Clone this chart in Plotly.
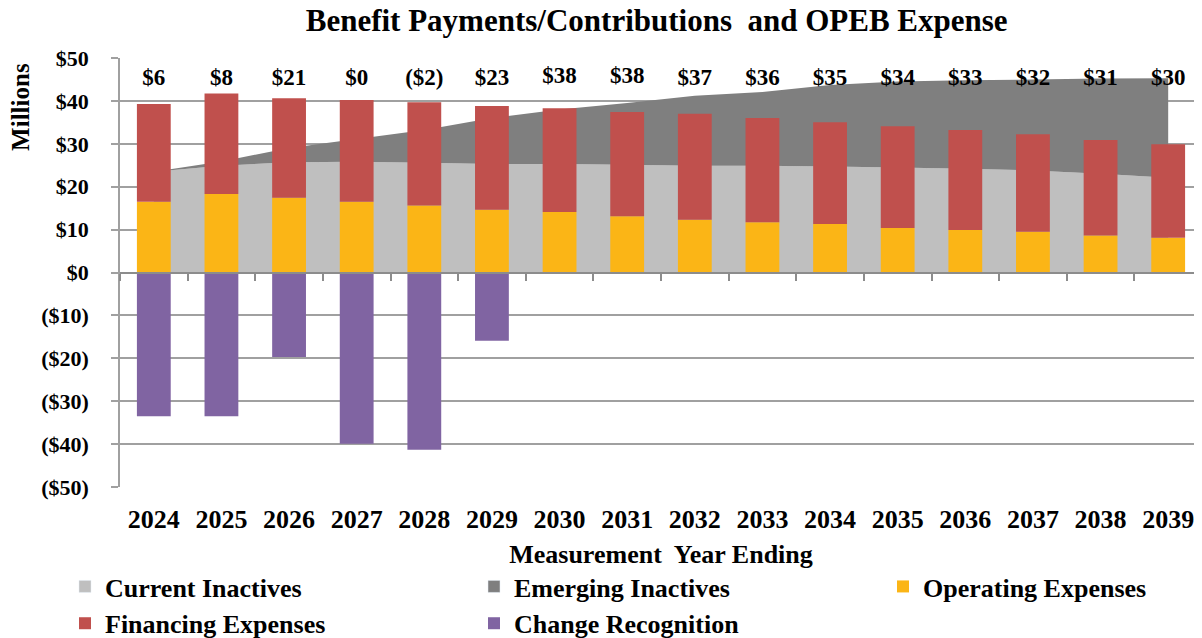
import plotly.graph_objects as go

years = ["2024", "2025", "2026", "2027", "2028", "2029", "2030", "2031",
         "2032", "2033", "2034", "2035", "2036", "2037", "2038", "2039"]
current_inactives = [23.5, 24.9, 25.7, 25.8, 25.6, 25.3, 25.3, 25.1,
                     24.9, 24.9, 24.7, 24.5, 24.2, 23.8, 23.0, 22.1]
emerging_inactives = [0.0, 1.0, 3.3, 5.3, 7.6, 10.7, 12.7, 14.4,
                      16.3, 17.2, 19.0, 20.0, 20.6, 21.2, 22.2, 23.2]
operating_expenses = [16.5, 18.3, 17.4, 16.5, 15.6, 14.6, 14.1, 13.1,
                      12.3, 11.7, 11.3, 10.4, 9.9, 9.5, 8.6, 8.1]
financing_expenses = [22.8, 23.4, 23.2, 23.7, 24.1, 24.2, 24.2, 24.3,
                      24.7, 24.3, 23.7, 23.7, 23.3, 22.7, 22.3, 21.8]
change_recognition = [-33.5, -33.5, -19.7, -39.9, -41.3, -15.9, 0, 0,
                      0, 0, 0, 0, 0, 0, 0, 0]
opeb_expense = [6, 8, 21, 0, -2, 23, 38, 38, 37, 36, 35, 34, 33, 32, 31, 30]
y_ticks = [50, 40, 30, 20, 10, 0, -10, -20, -30, -40, -50]


def money(v):
    return f"${v}" if v >= 0 else f"(${-v})"


FONT = "Liberation Serif"
GRID = "#a0a0a0"
LEG_FONT = dict(family=FONT, size=26, color="black", weight="bold")
W, H = 1194, 630  # page body adds an 8px margin around the figure

fig = go.Figure()

# Background areas (main subplot, drawn beneath the bars)
fig.add_trace(go.Scatter(x=years, y=current_inactives, name="Current Inactives",
                         stackgroup="area", mode="none", fillcolor="#bfbfbf",
                         showlegend=False, hoverinfo="skip"))
fig.add_trace(go.Scatter(x=years, y=emerging_inactives, name="Emerging Inactives",
                         stackgroup="area", mode="none", fillcolor="#7f7f7f",
                         showlegend=False, hoverinfo="skip"))

# Legend proxies for the areas
fig.add_trace(go.Bar(x=[None], y=[None], name="Current Inactives", marker_color="#bfbfbf",
                     xaxis="x2", yaxis="y2", legend="legend", legendrank=1))
fig.add_trace(go.Bar(x=[None], y=[None], name="Emerging Inactives", marker_color="#7f7f7f",
                     xaxis="x2", yaxis="y2", legend="legend2", legendrank=1))

# Bars (overlay subplot, drawn on top of the areas)
fig.add_trace(go.Bar(x=years, y=operating_expenses, name="Operating Expenses",
                     marker_color="#fbb516", marker_line_width=0,
                     xaxis="x2", yaxis="y2", legend="legend3", legendrank=1))
fig.add_trace(go.Bar(x=years, y=financing_expenses, name="Financing Expenses",
                     marker_color="#c0504d", marker_line_width=0,
                     xaxis="x2", yaxis="y2", legend="legend", legendrank=2))
fig.add_trace(go.Bar(x=years, y=change_recognition, name="Change Recognition",
                     marker_color="#8064a2", marker_line_width=0,
                     xaxis="x2", yaxis="y2", legend="legend2", legendrank=2))

# OPEB expense labels
label_y = [max(v, 37.5) + 7.6 for v in opeb_expense]
fig.add_trace(go.Scatter(x=years, y=label_y, mode="text",
                         text=[money(v) for v in opeb_expense],
                         textposition="middle center",
                         textfont=dict(family=FONT, size=23, color="black", weight="bold"),
                         xaxis="x2", yaxis="y2", showlegend=False, hoverinfo="skip",
                         cliponaxis=False))

legend_common = dict(orientation="v", traceorder="normal", yref="container",
                     y=0.119, yanchor="top", xref="container", xanchor="left",
                     font=LEG_FONT, itemwidth=30, tracegroupgap=0,
                     bgcolor="rgba(0,0,0,0)")

fig.update_layout(
    width=W, height=H,
    margin=dict(l=112, r=0, t=50, b=151, autoexpand=False),
    paper_bgcolor="white", plot_bgcolor="white",
    barmode="relative", bargap=0.5,
    font=dict(family=FONT, color="black", size=22, weight="bold"),
    title=dict(text="Benefit Payments/Contributions  and OPEB Expense",
               font=dict(family=FONT, size=31, color="black", weight="bold"),
               x=0.496, xref="paper", xanchor="center",
               y=0.981, yref="container", yanchor="middle"),
    xaxis=dict(type="category", categoryorder="array", categoryarray=years,
               range=[-0.5, len(years) - 0.5], showgrid=False, showline=False,
               ticks="", zeroline=False, automargin=False,
               tickfont=dict(family=FONT, size=26, color="black", weight="bold"),
               ticklabelstandoff=14,
               title=dict(text="Measurement  Year Ending", standoff=11,
                          font=dict(family=FONT, size=26, color="black", weight="bold"))),
    yaxis=dict(range=[-50, 50], tickvals=y_ticks, ticktext=[money(v) for v in y_ticks],
               showgrid=True, gridcolor=GRID, gridwidth=1.5, zeroline=False,
               showline=True, linecolor=GRID, linewidth=1.5, automargin=False,
               ticks="outside", ticklen=7, tickcolor=GRID, tickwidth=1.5,
               ticklabelstandoff=18,
               tickfont=dict(family=FONT, size=22, color="black", weight="bold")),
    xaxis2=dict(type="category", categoryorder="array", categoryarray=years,
                overlaying="x", anchor="free", position=0.5, automargin=False,
                range=[-0.5, len(years) - 0.5], showgrid=False, zeroline=False,
                showline=True, linecolor="#8c8c8c", linewidth=2,
                ticks="outside", tickson="boundaries", ticklen=7,
                tickcolor="#8c8c8c", tickwidth=1.5, showticklabels=False),
    yaxis2=dict(overlaying="y", range=[-50, 50], visible=False, showgrid=False,
                zeroline=False, automargin=False),
    legend=dict(legend_common, x=57 / W),
    legend2=dict(legend_common, x=466 / W),
    legend3=dict(legend_common, x=875 / W),
    annotations=[dict(text="Millions", textangle=-90, showarrow=False,
                      xref="paper", yref="paper", x=-0.0915, y=0.886,
                      xanchor="center", yanchor="middle",
                      font=dict(family=FONT, size=25, color="black", weight="bold"))],
)

fig.write_html("out.html")
